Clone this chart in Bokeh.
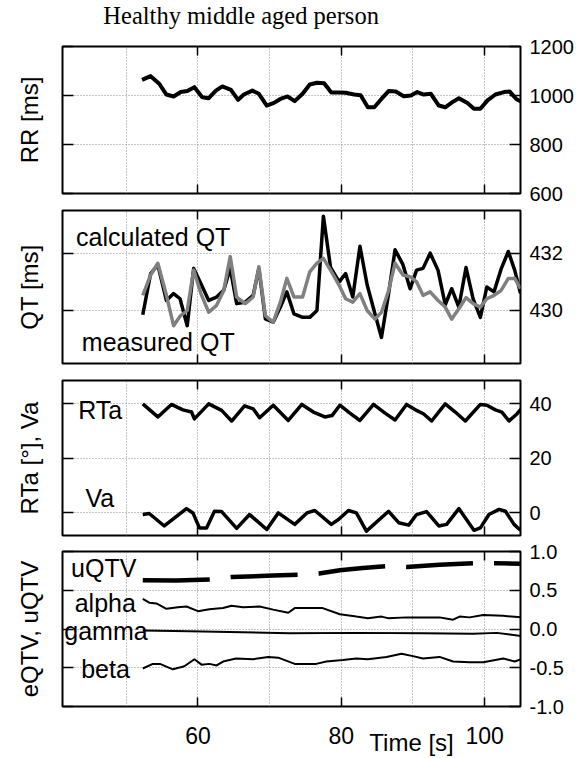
from bokeh.plotting import figure
from bokeh.models import Range1d, LinearAxis, FixedTicker, Label
from bokeh.layouts import column
from bokeh.embed import file_html
from bokeh.resources import INLINE

# ---------------- data ----------------
t_rr = [52.2, 53.4, 54.6, 55.6, 56.6, 57.6, 58.5, 59.5, 60.6, 61.5, 62.5, 63.4, 64.6, 65.6,
        66.4, 67.6, 68.5, 69.6, 70.6, 71.5, 72.5, 73.5, 74.6, 75.6, 76.6, 77.6, 78.6, 79.7,
        80.6, 81.8, 82.7, 83.7, 84.6, 85.6, 86.6, 87.6, 88.7, 89.7, 90.6, 91.5, 92.5, 93.6,
        94.5, 95.5, 96.4, 97.6, 98.5, 99.4, 100.4, 101.5, 102.7, 103.5, 104.4, 105.2]
rr = [1064, 1079, 1048, 1004, 996, 1014, 1018, 1034, 993, 989, 1020, 1037, 1023, 982,
      1004, 1020, 1007, 959, 970, 986, 996, 977, 1007, 1045, 1052, 1050, 1012, 1012,
      1011, 1004, 1001, 952, 952, 986, 1018, 1016, 997, 1000, 1014, 1004, 1007, 959,
      952, 973, 989, 969, 946, 946, 980, 1004, 1014, 1016, 986, 973]

t_qt = [52.3, 53.4, 54.4, 55.6, 56.6, 57.5, 58.5, 59.4, 60.4, 61.5, 62.6, 63.6, 64.5, 65.4,
        66.6, 67.7, 68.5, 69.4, 70.5, 71.5, 72.4, 73.4, 74.6, 75.6, 76.6, 77.5, 78.5, 79.7,
        80.6, 81.6, 82.6, 83.6, 84.7, 85.6, 86.6, 87.5, 88.6, 89.6, 90.5, 91.4, 92.4, 93.5,
        94.5, 95.4, 96.4, 97.4, 98.4, 99.4, 100.3, 101.3, 102.3, 103.3, 104.2, 105.0]
qt_calc = [429.85, 431.29, 431.59, 430.35, 430.59, 430.41, 429.47, 431.47, 430.94, 430.35,
           430.47, 430.71, 431.47, 430.24, 430.29, 430.53, 431.47, 429.71, 429.59, 430.12,
           430.65, 429.88, 429.76, 429.76, 430.0, 433.29, 431.5, 431.0, 431.29, 430.47,
           432.24, 430.9, 429.88, 429.06, 430.59, 432.12, 431.6, 430.76, 431.41, 431.47,
           432.0, 431.4, 430.2, 430.76, 430.12, 431.5, 430.4, 429.76, 430.82, 430.65,
           431.45, 432.06, 431.4, 430.6]
qt_meas = [430.53, 431.24, 431.65, 430.53, 429.47, 429.8, 430.0, 431.41, 430.6, 429.94,
           430.18, 430.7, 431.88, 430.47, 430.24, 430.47, 431.53, 429.82, 429.59, 430.29,
           431.12, 430.47, 430.47, 431.35, 431.65, 431.82, 431.41, 430.88, 430.41, 430.29,
           430.59, 430.0, 429.7, 429.94, 430.7, 431.65, 431.24, 431.18, 431.0, 430.53,
           430.65, 430.35, 430.12, 429.7, 430.06, 430.45, 430.24, 430.12, 430.41, 430.53,
           430.7, 431.12, 431.12, 430.76]

t_rta = [52.3, 54.4, 56.3, 57.9, 59.1, 59.5, 61.5, 63.3, 64.7, 66.5, 67.7, 68.6, 70.5, 72.6,
         74.5, 76.1, 77.7, 78.7, 79.8, 81.2, 82.6, 84.5, 86.1, 87.5, 89.1, 90.5, 91.5, 92.6,
         94.5, 95.9, 97.3, 99.4, 100.3, 101.5, 102.4, 103.4, 104.5, 105.1]
rta = [40.0, 35.2, 39.8, 37.8, 37.0, 34.5, 40.0, 37.6, 33.7, 39.3, 38.2, 34.9, 39.5, 33.9,
       39.8, 37.0, 35.2, 35.7, 39.5, 36.6, 33.9, 39.8, 36.6, 34.1, 39.8, 37.6, 36.3, 33.7,
       40.0, 37.0, 33.7, 39.8, 39.5, 37.8, 37.0, 33.7, 36.3, 38.2]

t_va = [52.3, 53.2, 55.3, 58.4, 59.3, 60.2, 61.2, 62.3, 63.3, 65.4, 67.2, 69.6, 71.2, 73.5,
        75.2, 76.3, 78.6, 79.6, 81.0, 82.1, 83.5, 86.6, 88.0, 89.4, 90.5, 91.9, 93.6, 94.7,
        96.4, 98.5, 99.4, 100.6, 102.0, 102.9, 104.1, 105.0]
va = [-0.7, -0.3, -4.9, 1.5, -0.1, -5.6, -5.6, 0.5, 0.4, -5.8, -0.7, -6.2, -0.1, -4.3,
      -0.1, 0.8, -4.3, -2.5, 0.8, -0.1, -6.8, 0.5, -3.7, -4.6, -0.7, 0.4, -4.9, -4.3,
      1.5, -6.5, -5.6, -0.7, 1.2, 0.5, -4.3, -6.5]

t_u = [52.3, 57.0, 61.7, 64.7, 70.5, 74.0, 76.9, 79.8, 83.0, 86.3, 89.1, 93.7, 98.4, 101.4, 105.3]
uqtv = [0.63, 0.625, 0.64, 0.67, 0.69, 0.70, 0.715, 0.757, 0.787, 0.81, 0.80, 0.83, 0.85, 0.85, 0.84]

t_a = [52.3, 53.2, 54.2, 55.6, 57.2, 58.4, 60.0, 61.6, 63.5, 64.7, 66.3, 68.6, 70.5, 72.6,
       73.5, 77.4, 79.8, 82.1, 83.7, 85.6, 86.5, 89.1, 91.4, 93.7, 95.6, 96.5, 97.9, 99.8,
       102.6, 105.1]
alpha = [0.39, 0.34, 0.33, 0.26, 0.28, 0.29, 0.23, 0.255, 0.27, 0.30, 0.28, 0.29, 0.25, 0.21,
         0.27, 0.27, 0.19, 0.16, 0.14, 0.16, 0.14, 0.15, 0.15, 0.15, 0.12, 0.16, 0.15, 0.18,
         0.17, 0.15]

t_g = [52.3, 58.8, 72.8, 82.1, 91.4, 98.4, 101.7, 103.5, 105.1]
gamma = [-0.02, -0.03, -0.055, -0.05, -0.055, -0.06, -0.05, -0.07, -0.09]

t_b = [52.3, 53.7, 54.7, 56.5, 58.1, 59.5, 60.5, 61.6, 62.6, 63.5, 65.3, 67.7, 69.8, 71.2,
       73.5, 76.5, 77.9, 80.2, 82.1, 83.7, 86.3, 88.4, 90.0, 91.4, 93.7, 95.6, 97.9, 99.8,
       102.6, 104.2, 105.1]
beta = [-0.51, -0.45, -0.45, -0.52, -0.48, -0.39, -0.46, -0.45, -0.47, -0.42, -0.38, -0.39,
        -0.36, -0.37, -0.45, -0.45, -0.42, -0.40, -0.38, -0.39, -0.36, -0.32, -0.35, -0.38,
        -0.36, -0.42, -0.43, -0.43, -0.38, -0.42, -0.39]

x_ticks = [60, 80, 100]
x_grid = [50, 60, 70, 80, 90, 100]
rr_ticks = [600, 800, 1000, 1200]
qt_ticks = [430, 432]
ang_ticks = [0, 20, 40]
qtv_ticks = [-1.0, -0.5, 0.0, 0.5, 1.0]
qtv_labels = {-1.0: "-1.0", -0.5: "-0.5", 0.0: "0.0", 0.5: "0.5", 1.0: "1.0"}

# ---------------- styling ----------------
FONT = "Liberation Sans"
X0, X1 = 41.1, 105.0
FW = 458
TOTAL_W = 574


def style_tick_only_axis(ax, tick_len):
    ax.axis_line_color = None
    ax.major_tick_in = tick_len
    ax.major_tick_out = 0
    ax.minor_tick_in = 0
    ax.minor_tick_out = 0
    ax.major_tick_line_width = 1.5
    ax.major_tick_line_color = "black"
    ax.major_label_text_font_size = "1px"
    ax.major_label_text_color = None
    ax.major_label_standoff = 0


def make_panel(ylo, yhi, yticks, ylabel, left, frame_h, top, bottom, overrides=None):
    p = figure(frame_width=FW, frame_height=frame_h,
               x_range=Range1d(X0, X1), y_range=Range1d(ylo, yhi),
               y_axis_location="right", x_axis_location="below",
               output_backend="svg", toolbar_location=None,
               min_border_left=left, min_border_right=TOTAL_W - FW - left,
               min_border_top=top, min_border_bottom=bottom,
               background_fill_color="white", border_fill_color="white")
    p.outline_line_color = "black"
    p.outline_line_width = 2
    p.outline_line_alpha = 1.0

    ry = p.yaxis[0]
    bx = p.xaxis[0]

    ry.ticker = FixedTicker(ticks=yticks)
    ry.axis_line_color = None
    ry.major_tick_in = 11
    ry.major_tick_out = 0
    ry.minor_tick_in = 0
    ry.minor_tick_out = 0
    ry.major_tick_line_width = 1.5
    ry.major_label_text_font = FONT
    ry.major_label_text_font_size = "20px"
    ry.major_label_text_color = "black"
    ry.major_label_standoff = 9
    if overrides:
        ry.major_label_overrides = overrides

    ly = LinearAxis(ticker=FixedTicker(ticks=yticks), axis_label=ylabel)
    style_tick_only_axis(ly, 11)
    ly.axis_label_text_font = FONT
    ly.axis_label_text_font_size = "24px"
    ly.axis_label_text_font_style = "normal"
    ly.axis_label_text_color = "black"
    ly.axis_label_standoff = 20
    p.add_layout(ly, "left")

    bx.ticker = FixedTicker(ticks=x_ticks)
    style_tick_only_axis(bx, 9)

    tx = LinearAxis(ticker=FixedTicker(ticks=x_ticks))
    style_tick_only_axis(tx, 9)
    p.add_layout(tx, "above")

    p.xgrid.ticker = FixedTicker(ticks=x_grid)
    p.ygrid.ticker = FixedTicker(ticks=yticks)
    for g in (p.xgrid, p.ygrid):
        g.grid_line_color = "#8c8c8c"
        g.grid_line_dash = "1 2"
        g.grid_line_width = 1
    return p, bx


def add_text(p, x, y, txt, align="left"):
    p.add_layout(Label(x=x, y=y, text=txt, text_font=FONT, text_font_size="25px",
                       text_color="black", text_baseline="middle", text_align=align))


# Title strip
TITLE_H = 34
p0 = figure(frame_width=FW, frame_height=TITLE_H, x_range=Range1d(X0, X1),
            y_range=Range1d(0, TITLE_H), x_axis_location=None, y_axis_location=None,
            output_backend="svg", toolbar_location=None,
            min_border_left=59, min_border_right=TOTAL_W - FW - 59,
            min_border_top=0, min_border_bottom=0,
            background_fill_color="white", border_fill_color="white")
p0.outline_line_color = None
p0.grid.visible = False
p0.add_layout(Label(x=46.8, y=19, text="Healthy middle aged person",
                    text_font="Liberation Serif", text_font_size="24.5px",
                    text_color="black", text_baseline="alphabetic", text_align="left"))

# Panel 1: RR
p1, _ = make_panel(600, 1200, rr_ticks, "RR [ms]", 59, 147, 12, 13)
p1.line(t_rr, rr, line_color="black", line_width=4, line_join="round")

# Panel 2: QT
p2, _ = make_panel(428.15, 433.49, qt_ticks, "QT [ms]", 62, 153, 4, 9)
p2.line(t_qt, qt_calc, line_color="black", line_width=3.5, line_join="round")
p2.line(t_qt, qt_meas, line_color="#808080", line_width=3.5, line_join="round")
add_text(p2, 43.0, 432.56, "calculated QT")
add_text(p2, 43.8, 428.89, "measured QT")

# Panel 3: angles
p3, _ = make_panel(-8.4, 48.6, ang_ticks, "RTa [°], Va", 61, 155, 8, 4)
p3.line(t_rta, rta, line_color="black", line_width=3.5, line_join="round")
p3.line(t_va, va, line_color="black", line_width=3.5, line_join="round")
add_text(p3, 43.3, 37.6, "RTa")
add_text(p3, 44.3, 5.4, "Va")

# Panel 4: QTV components
p4, bx4 = make_panel(-1.0, 1.0, qtv_ticks, "eQTV, uQTV", 59, 155, 12, 40, overrides=qtv_labels)
p4.line(t_u, uqtv, line_color="black", line_width=4.5, line_dash="67 21", line_join="round")
p4.line(t_a, alpha, line_color="black", line_width=2)
p4.line(t_g, gamma, line_color="black", line_width=2)
p4.line(t_b, beta, line_color="black", line_width=2)
add_text(p4, 42.3, 0.785, "uQTV")
add_text(p4, 42.8, 0.33, "alpha")
add_text(p4, 41.35, -0.02, "gamma")
add_text(p4, 43.7, -0.51, "beta")

bx4.major_label_text_font = FONT
bx4.major_label_text_font_size = "23px"
bx4.major_label_text_color = "black"
bx4.major_label_standoff = 20
# the axis title sits right of centre in the reference: pad it with no-break spaces
bx4.axis_label = "\u00a0" * 36 + "Time [s]"
bx4.axis_label_text_font = FONT
bx4.axis_label_text_font_size = "24px"
bx4.axis_label_text_font_style = "normal"
bx4.axis_label_text_color = "black"
bx4.axis_label_standoff = -18

layout = column(p0, p1, p2, p3, p4, spacing=0)

open("out.html", "w").write(file_html(layout, INLINE))
